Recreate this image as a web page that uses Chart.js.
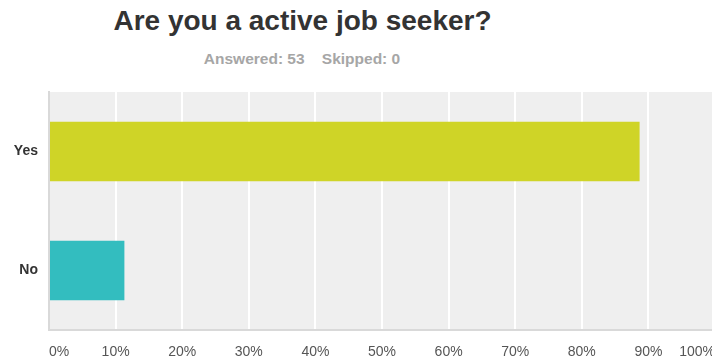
<!DOCTYPE html>
<html>
<head>
<meta charset="utf-8">
<script src="https://cdn.jsdelivr.net/npm/chart.js@4.4.1/dist/chart.umd.min.js"></script>
<style>
  html, body { margin: 0; padding: 0; background: #fff; overflow: hidden; width: 712px; height: 358px; }
  .titulo {
    position: absolute; left: 0; width: 605px; top: 7px;
    text-align: center; font: bold 28px/28px "Liberation Sans", Arial, sans-serif; color: #333;
  }
  .resumo {
    position: absolute; left: 0; width: 604px; top: 51px;
    text-align: center; font: bold 15.5px/15px "Liberation Sans", Arial, sans-serif; color: #a6a6a6;
    white-space: pre;
  }
  #grafico { position: absolute; left: 0; top: 0; }
</style>
</head>
<body>
<div class="titulo">Are you a active job seeker?</div>
<div class="resumo">Answered: 53    Skipped: 0</div>
<canvas id="grafico" width="716" height="358"></canvas>
<script>
// Respostas (%) por opção
const opcoes = ['Yes', 'No'];
const percentuais = [88.68, 11.32];
const cores = ['#cfd427', '#33bdbf'];
const ticksX = [0, 10, 20, 30, 40, 50, 60, 70, 80, 90, 100];

// Fundo cinza da área do gráfico
const fundoArea = {
  id: 'fundoArea',
  beforeDraw(chart) {
    const { ctx, chartArea } = chart;
    ctx.save();
    ctx.fillStyle = '#efefef';
    ctx.fillRect(chartArea.left, chartArea.top, chartArea.right - chartArea.left, chartArea.bottom - chartArea.top);
    ctx.restore();
  }
};

const ctx = document.getElementById('grafico').getContext('2d');
new Chart(ctx, {
  type: 'bar',
  data: {
    labels: opcoes,
    datasets: [{
      data: percentuais,
      backgroundColor: cores,
      borderWidth: 0,
      barPercentage: 1,
      categoryPercentage: 0.5
    }]
  },
  options: {
    indexAxis: 'y',
    responsive: false,
    animation: false,
    devicePixelRatio: 1,
    layout: { padding: { top: 92, right: 1, left: 0, bottom: 0 } },
    plugins: {
      legend: { display: false },
      tooltip: { enabled: false },
      title: { display: false }
    },
    scales: {
      x: {
        min: 0,
        max: 100,
        afterBuildTicks(scale) {
          scale.ticks = ticksX.map(v => ({ value: v }));
        },
        afterFit(scale) {
          scale.height = 28;
          // rótulos alinhados para dentro: sem folga extra nas pontas
          scale.paddingLeft = 0;
          scale.paddingRight = 0;
        },
        ticks: {
          align: 'inner',
          padding: 14,
          color: '#555',
          font: { family: '"Liberation Sans", Arial, sans-serif', size: 14 },
          callback: v => v + '%'
        },
        grid: {
          color: c => (c.tick && c.tick.value === 0) ? 'rgba(0,0,0,0)' : '#ffffff',
          lineWidth: 2,
          drawTicks: false
        },
        border: { color: '#d9d9d9', width: 2 }
      },
      y: {
        afterFit(scale) { scale.width = 49; },
        ticks: {
          padding: 11,
          color: '#333',
          font: { family: '"Liberation Sans", Arial, sans-serif', size: 14, weight: 'bold' }
        },
        grid: { display: false, drawTicks: false },
        border: { color: '#d9d9d9', width: 2 }
      }
    }
  },
  plugins: [fundoArea]
});
</script>
</body>
</html>
